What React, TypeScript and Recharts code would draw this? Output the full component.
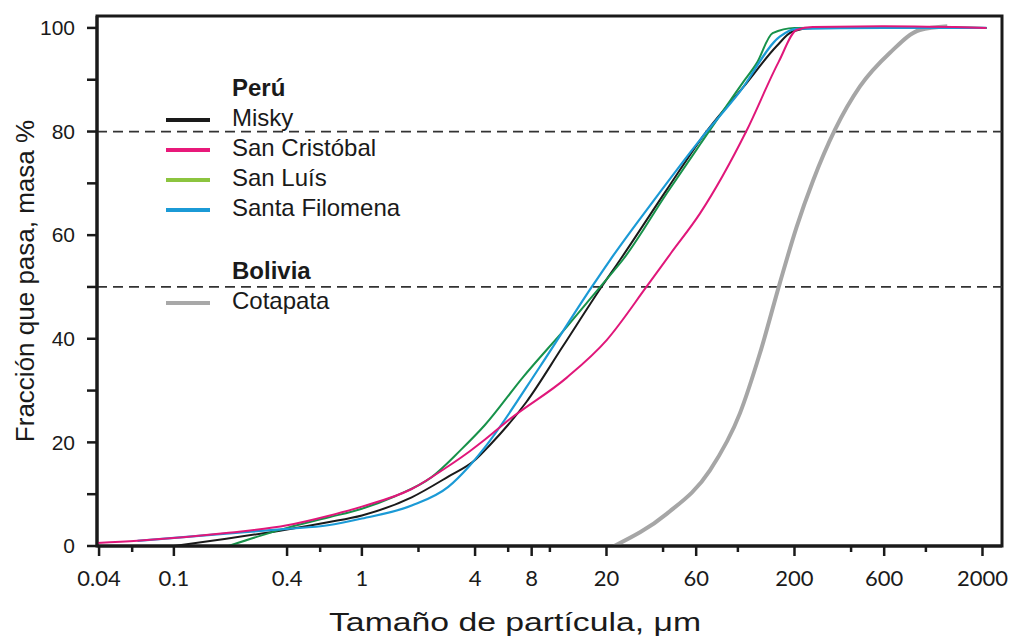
import React from 'react'
import { LineChart, Line, XAxis, YAxis, ReferenceLine, ReferenceArea, Legend } from 'recharts'

// particle size (µm) and cumulative passing (%)
const miskyX = [0.1, 0.19, 0.4, 0.66, 1, 1.84, 2.88, 4, 4.8, 7.5, 11.7, 18.8, 23.6, 41.7, 68, 111, 160, 195, 250, 600, 2100]
const miskyY = [0, 1.4, 3.2, 4.6, 5.9, 9.4, 13.4, 16.6, 19.5, 27.8, 38.5, 50, 55.2, 68.7, 80, 89.3, 96.4, 99.3, 100, 100.2, 100]

const sanCristobalX = [0.039, 0.064, 0.19, 0.4, 0.66, 1, 1.84, 2.88, 3.75, 4.5, 6.13, 12.3, 20, 32.6, 44, 62.9, 111, 165, 205, 250, 600, 2100]
const sanCristobalY = [0.6, 1.0, 2.5, 4.0, 5.8, 7.6, 11, 15.4, 18.3, 20.5, 24.5, 32.5, 39.7, 50, 56.5, 64.2, 80.1, 93.5, 99.6, 100.2, 100.3, 100]

const sanLuisX = [0.195, 0.29, 0.4, 0.66, 1, 1.5, 2.35, 3.35, 4.5, 7.2, 12.3, 19.2, 24.5, 41.7, 62.9, 106, 126, 153, 200, 600, 2100]
const sanLuisY = [0, 2.0, 3.5, 5.5, 7.2, 9.6, 13.3, 18.5, 23.3, 32.6, 42.3, 50.7, 55.3, 68, 77.5, 89.4, 93.2, 99.0, 100, 100.1, 100]

const santaFilomenaX = [0.064, 0.19, 0.4, 0.66, 1, 1.84, 2.88, 3.68, 4.5, 8.85, 16.7, 20.9, 36.9, 62.9, 102.5, 167, 205, 600, 2100]
const santaFilomenaY = [1.0, 2.4, 3.3, 4.0, 5.3, 7.8, 11.4, 15.2, 19.0, 34.6, 50, 55.2, 67.4, 78.4, 87.7, 98.3, 99.8, 100, 100]

const cotapataX = [22, 41.8, 71, 102.5, 131, 167, 205, 251, 328, 446, 644, 929, 1300]
const cotapataY = [0, 6.2, 14.6, 25.6, 37.2, 50.7, 61.5, 70.5, 80.3, 88.7, 95.2, 99.6, 100.3]

const xTicks = [0.04, 0.06, 0.1, 0.4, 0.6, 1, 2, 4, 6, 8, 10, 20, 40, 60, 100, 200, 400, 600, 1000, 2000]
const xLabels = [0.04, 0.1, 0.4, 1, 4, 8, 20, 60, 200, 600, 2000]
const yTicks = [0, 10, 20, 30, 40, 50, 60, 70, 80, 90, 100]
const yLabels = [0, 20, 40, 60, 80, 100]
const limitLines = [80, 50]

const xDomain = [0.039, 2540]
const yDomain = [0, 102.3]

const toPoints = (xs: number[], ys: number[]) => xs.map((x, i) => ({ x, y: ys[i] }))

const series = [
  { name: 'Cotapata', country: 'Bolivia', data: toPoints(cotapataX, cotapataY), color: '#a6a6a6', legendColor: '#a8a8a8', width: 4 },
  { name: 'Misky', country: 'Perú', data: toPoints(miskyX, miskyY), color: '#1a1a1a', legendColor: '#1a1a1a', width: 2 },
  { name: 'San Luís', country: 'Perú', data: toPoints(sanLuisX, sanLuisY), color: '#17924a', legendColor: '#8cc43f', width: 2 },
  { name: 'Santa Filomena', country: 'Perú', data: toPoints(santaFilomenaX, santaFilomenaY), color: '#1b9ad6', legendColor: '#1b9ad6', width: 2.2 },
  { name: 'San Cristóbal', country: 'Perú', data: toPoints(sanCristobalX, sanCristobalY), color: '#e0177a', legendColor: '#e8197a', width: 2 },
]

const legendGroups = [
  { country: 'Perú', names: ['Misky', 'San Cristóbal', 'San Luís', 'Santa Filomena'], gap: 0 },
  { country: 'Bolivia', names: ['Cotapata'], gap: 33 },
]

const ink = '#1a1a1a'
const sans = '"Liberation Sans", Arial, sans-serif'

function XTick({ x, y, payload }: any) {
  const major = xLabels.includes(payload.value)
  return (
    <g>
      <line x1={x} x2={x} y1={y} y2={y + (major ? 10 : 6)} stroke={ink} strokeWidth={2.5} />
      {major && (
        <text x={x} y={y + 32} dy="0.35em" textAnchor="middle" fontSize={22} fontFamily="Lato, sans-serif" fill={ink}>
          {payload.value}
        </text>
      )}
    </g>
  )
}

function YTick({ x, y, payload }: any) {
  const major = yLabels.includes(payload.value)
  return (
    <g>
      <line x1={x - 10} x2={x} y1={y} y2={y} stroke={ink} strokeWidth={2.5} />
      {major && (
        <text x={x - 22} y={y} dy="0.35em" textAnchor="end" fontSize={21} fontFamily={sans} fill={ink}>
          {payload.value}
        </text>
      )}
    </g>
  )
}

function LegendBox() {
  return (
    <div style={{ fontFamily: sans, fontSize: 24, color: ink, lineHeight: '30px' }}>
      {legendGroups.map((g) => (
        <div key={g.country} style={{ marginTop: g.gap }}>
          <div style={{ fontWeight: 'bold', paddingLeft: 66, height: 30 }}>{g.country}</div>
          {g.names.map((n) => {
            const s = series.find((d) => d.name === n)!
            return (
              <div key={n} style={{ display: 'flex', alignItems: 'center', height: 30, whiteSpace: 'nowrap' }}>
                <span style={{ display: 'inline-block', width: 44, height: 4, background: s.legendColor, marginRight: 22, marginTop: 3 }} />
                {n}
              </div>
            )
          })}
        </div>
      ))}
    </div>
  )
}

export default function App() {
  return (
    <LineChart width={1008} height={631} margin={{ top: 8, right: 14, left: 0, bottom: 0 }}>
      <XAxis
        dataKey="x"
        type="number"
        scale="log"
        domain={xDomain}
        allowDataOverflow
        ticks={xTicks}
        interval={0}
        tickSize={0}
        tickMargin={0}
        tick={<XTick />}
        axisLine={{ stroke: ink, strokeWidth: 3 }}
        height={93}
        label={({ viewBox }: any) => (
          <text
            x={viewBox.x + 418}
            y={viewBox.y + 76}
            dy="0.35em"
            textAnchor="middle"
            fontSize={26}
            textLength={372}
            lengthAdjust="spacingAndGlyphs"
            fontFamily={sans}
            fill={ink}
          >
            Tamaño de partícula, μm
          </text>
        )}
      />
      <YAxis
        type="number"
        domain={yDomain}
        allowDataOverflow
        ticks={yTicks}
        interval={0}
        tickSize={0}
        tickMargin={0}
        tick={<YTick />}
        axisLine={{ stroke: ink, strokeWidth: 3 }}
        width={89}
        label={({ viewBox }: any) => {
          const cx = viewBox.x + 17
          const cy = viewBox.y + viewBox.height / 2
          return (
            <text x={cx} y={cy} dy="0.35em" textAnchor="middle" transform={`rotate(-90 ${cx} ${cy})`} fontSize={26} fontFamily={sans} fill={ink}>
              Fracción que pasa, masa %
            </text>
          )
        }}
      />
      <ReferenceArea x1={xDomain[0]} x2={xDomain[1]} y1={yDomain[0]} y2={yDomain[1]} fill="none" fillOpacity={0} stroke={ink} strokeWidth={3} ifOverflow="visible" />
      {limitLines.map((v) => (
        <ReferenceLine key={v} y={v} stroke="#333" strokeWidth={1.8} strokeDasharray="10 6" />
      ))}
      {series.map((s) => (
        <Line
          key={s.name}
          data={s.data}
          dataKey="y"
          name={s.name}
          type="monotone"
          stroke={s.color}
          strokeWidth={s.width}
          dot={false}
          activeDot={false}
          isAnimationActive={false}
        />
      ))}
      <Legend
        layout="vertical"
        align="center"
        verticalAlign="middle"
        wrapperStyle={{ top: 65, left: 158, width: 'auto', height: 'auto' }}
        content={() => <LegendBox />}
      />
    </LineChart>
  )
}
